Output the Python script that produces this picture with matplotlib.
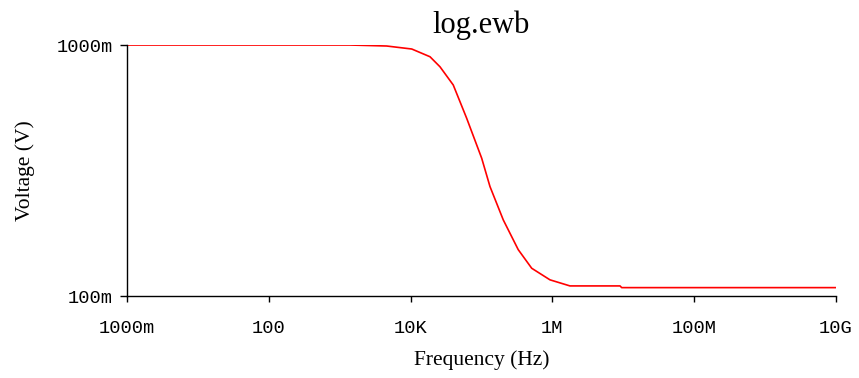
import numpy as np
import matplotlib.pyplot as plt

# Frequency response (Hz, V)
freq = [1, 1400, 4600, 10400, 18800, 26000, 40000, 61800, 100700, 131800,
        203000, 330000, 511000, 925000, 1.77e6, 9.0e6, 9.5e6, 1e10]
volts = [1.0, 1.0, 0.991, 0.964, 0.898, 0.819, 0.693, 0.511, 0.354, 0.273,
         0.201, 0.153, 0.129, 0.116, 0.1097, 0.1097, 0.108, 0.108]

x_ticks = [1, 100, 1e4, 1e6, 1e8, 1e10]
x_labels = ["1000m", "100", "10K", "1M", "100M", "10G"]
y_ticks = [0.1, 1.0]
y_labels = ["100m", "1000m"]

fig = plt.figure(figsize=(8.59, 3.78), dpi=100)
ax = fig.add_axes([0.1478, 0.2169, 0.8254, 0.664])

ax.plot(freq, volts, color="#ff0000", lw=1.2)

ax.set_xscale("log")
ax.set_yscale("log")
ax.set_xlim(1, 1e10)
ax.set_ylim(0.1, 1.0)

ax.minorticks_off()
ax.set_xticks(x_ticks)
ax.set_xticklabels(x_labels, family="Liberation Mono", fontsize=13.5)
ax.set_yticks(y_ticks)
ax.set_yticklabels(y_labels, family="Liberation Mono", fontsize=13.5)
ax.minorticks_off()
ax.tick_params(axis="x", length=4, width=1, pad=13)
ax.tick_params(axis="y", length=5, width=1, pad=5)

ax.spines["top"].set_visible(False)
ax.spines["right"].set_visible(False)
ax.spines["left"].set_linewidth(1)
ax.spines["bottom"].set_linewidth(1)

ax.set_title("log.ewb", family="Liberation Serif", fontsize=22, pad=9)
ax.set_xlabel("Frequency (Hz)", family="Liberation Serif", fontsize=15.5, labelpad=10)
ax.set_ylabel("Voltage (V)", family="Liberation Serif", fontsize=15.5, labelpad=16)

fig.savefig("out.png", dpi=100)
